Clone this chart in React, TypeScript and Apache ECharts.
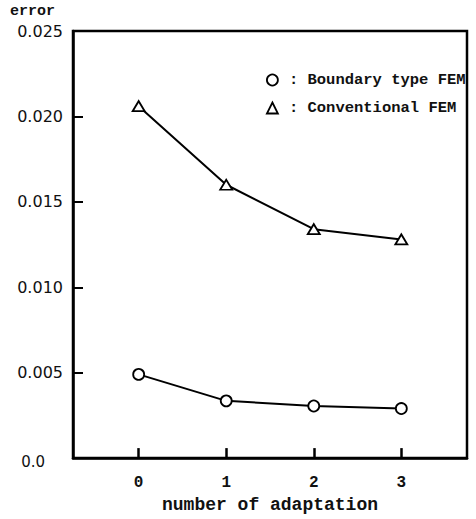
import React, { useEffect, useRef } from "react";
import * as echarts from "echarts";

const adaptations = [0, 1, 2, 3];
const boundaryFEM = [0.0049, 0.00335, 0.00305, 0.0029];
const conventionalFEM = [0.0206, 0.016, 0.0134, 0.0128];
const yTicks = [0, 0.005, 0.01, 0.015, 0.02, 0.025];
const legendNames = ["Boundary type FEM", "Conventional FEM"];

const MONO = "'Liberation Mono', 'DejaVu Sans Mono', monospace";

export default function App() {
  const ref = useRef<HTMLDivElement>(null);
  useEffect(() => {
    if (!ref.current) return;
    const chart = echarts.init(ref.current, null, { renderer: "svg" });
    const sym = {
      color: "#fff",
      borderColor: "#000",
      borderWidth: 1.8,
    };
    chart.setOption({
      animation: false,
      backgroundColor: "#fff",
      grid: {
        left: 73,
        right: 9,
        top: 31,
        bottom: 51,
        show: true,
        borderColor: "#000",
        borderWidth: 2.5,
        backgroundColor: "transparent",
      },
      legend: {
        orient: "vertical",
        left: 261,
        top: 67,
        itemWidth: 11,
        itemHeight: 11,
        itemGap: 12,
        data: [
          { name: legendNames[0], icon: "circle", itemStyle: sym },
          { name: legendNames[1], icon: "triangle", itemStyle: sym },
        ],
        formatter: (n: string) => ": " + n,
        textStyle: {
          fontFamily: MONO,
          fontSize: 15.5,
          fontWeight: "bold",
          color: "#111",
          padding: [0, 0, 0, 6],
        },
      },
      xAxis: {
        type: "value",
        min: -0.75,
        max: 3.75,
        name: "number of adaptation",
        nameLocation: "middle",
        nameGap: 35,
        nameTextStyle: {
          fontFamily: MONO,
          fontSize: 18,
          fontWeight: "bold",
          color: "#111",
        },
        axisLine: { show: true, onZero: false, lineStyle: { color: "#000", width: 2.5 } },
        axisTick: {
          show: true,
          inside: true,
          length: 10,
          customValues: adaptations,
          lineStyle: { color: "#000", width: 2.5 },
        },
        axisLabel: {
          customValues: adaptations,
          margin: 17,
          fontFamily: MONO,
          fontSize: 16,
          fontWeight: "bold",
          color: "#111",
        },
        splitLine: { show: false },
      },
      yAxis: {
        type: "value",
        min: 0,
        max: 0.025,
        interval: 0.005,
        name: "error",
        nameLocation: "end",
        nameGap: 12,
        nameTextStyle: {
          fontFamily: MONO,
          fontSize: 15,
          fontWeight: "bold",
          color: "#111",
          align: "right",
          padding: [0, 18, 0, 0],
        },
        axisLine: { show: true, onZero: false, lineStyle: { color: "#000", width: 2.5 } },
        axisTick: {
          show: true,
          inside: true,
          length: 10,
          lineStyle: { color: "#000", width: 2 },
        },
        axisLabel: {
          margin: 10,
          fontFamily: "'DejaVu Sans', sans-serif",
          fontSize: 16,
          color: "#111",
          formatter: (v: number) => {
            const i = yTicks.findIndex((t) => Math.abs(t - v) < 1e-9);
            if (i === 0) return "{z|0.0}";
            return yTicks[i] !== undefined ? yTicks[i].toFixed(3) : "";
          },
          rich: {
            z: {
              fontFamily: "'DejaVu Sans', sans-serif",
              fontSize: 15,
              color: "#111",
              padding: [8, 18, 0, 0],
            },
          },
        },
        splitLine: { show: false },
      },
      series: [
        {
          name: legendNames[0],
          type: "line",
          data: adaptations.map((x, i) => [x, boundaryFEM[i]]),
          symbol: "circle",
          symbolSize: 11,
          itemStyle: sym,
          lineStyle: { color: "#000", width: 2 },
          z: 3,
        },
        {
          name: legendNames[1],
          type: "line",
          data: adaptations.map((x, i) => [x, conventionalFEM[i]]),
          symbol: "triangle",
          symbolSize: [12, 10],
          itemStyle: sym,
          lineStyle: { color: "#000", width: 2 },
          z: 3,
        },
      ],
    });
    return () => chart.dispose();
  }, []);
  return <div ref={ref} style={{ width: 476, height: 519, position: "absolute", left: 0, top: 0 }} />;
}
